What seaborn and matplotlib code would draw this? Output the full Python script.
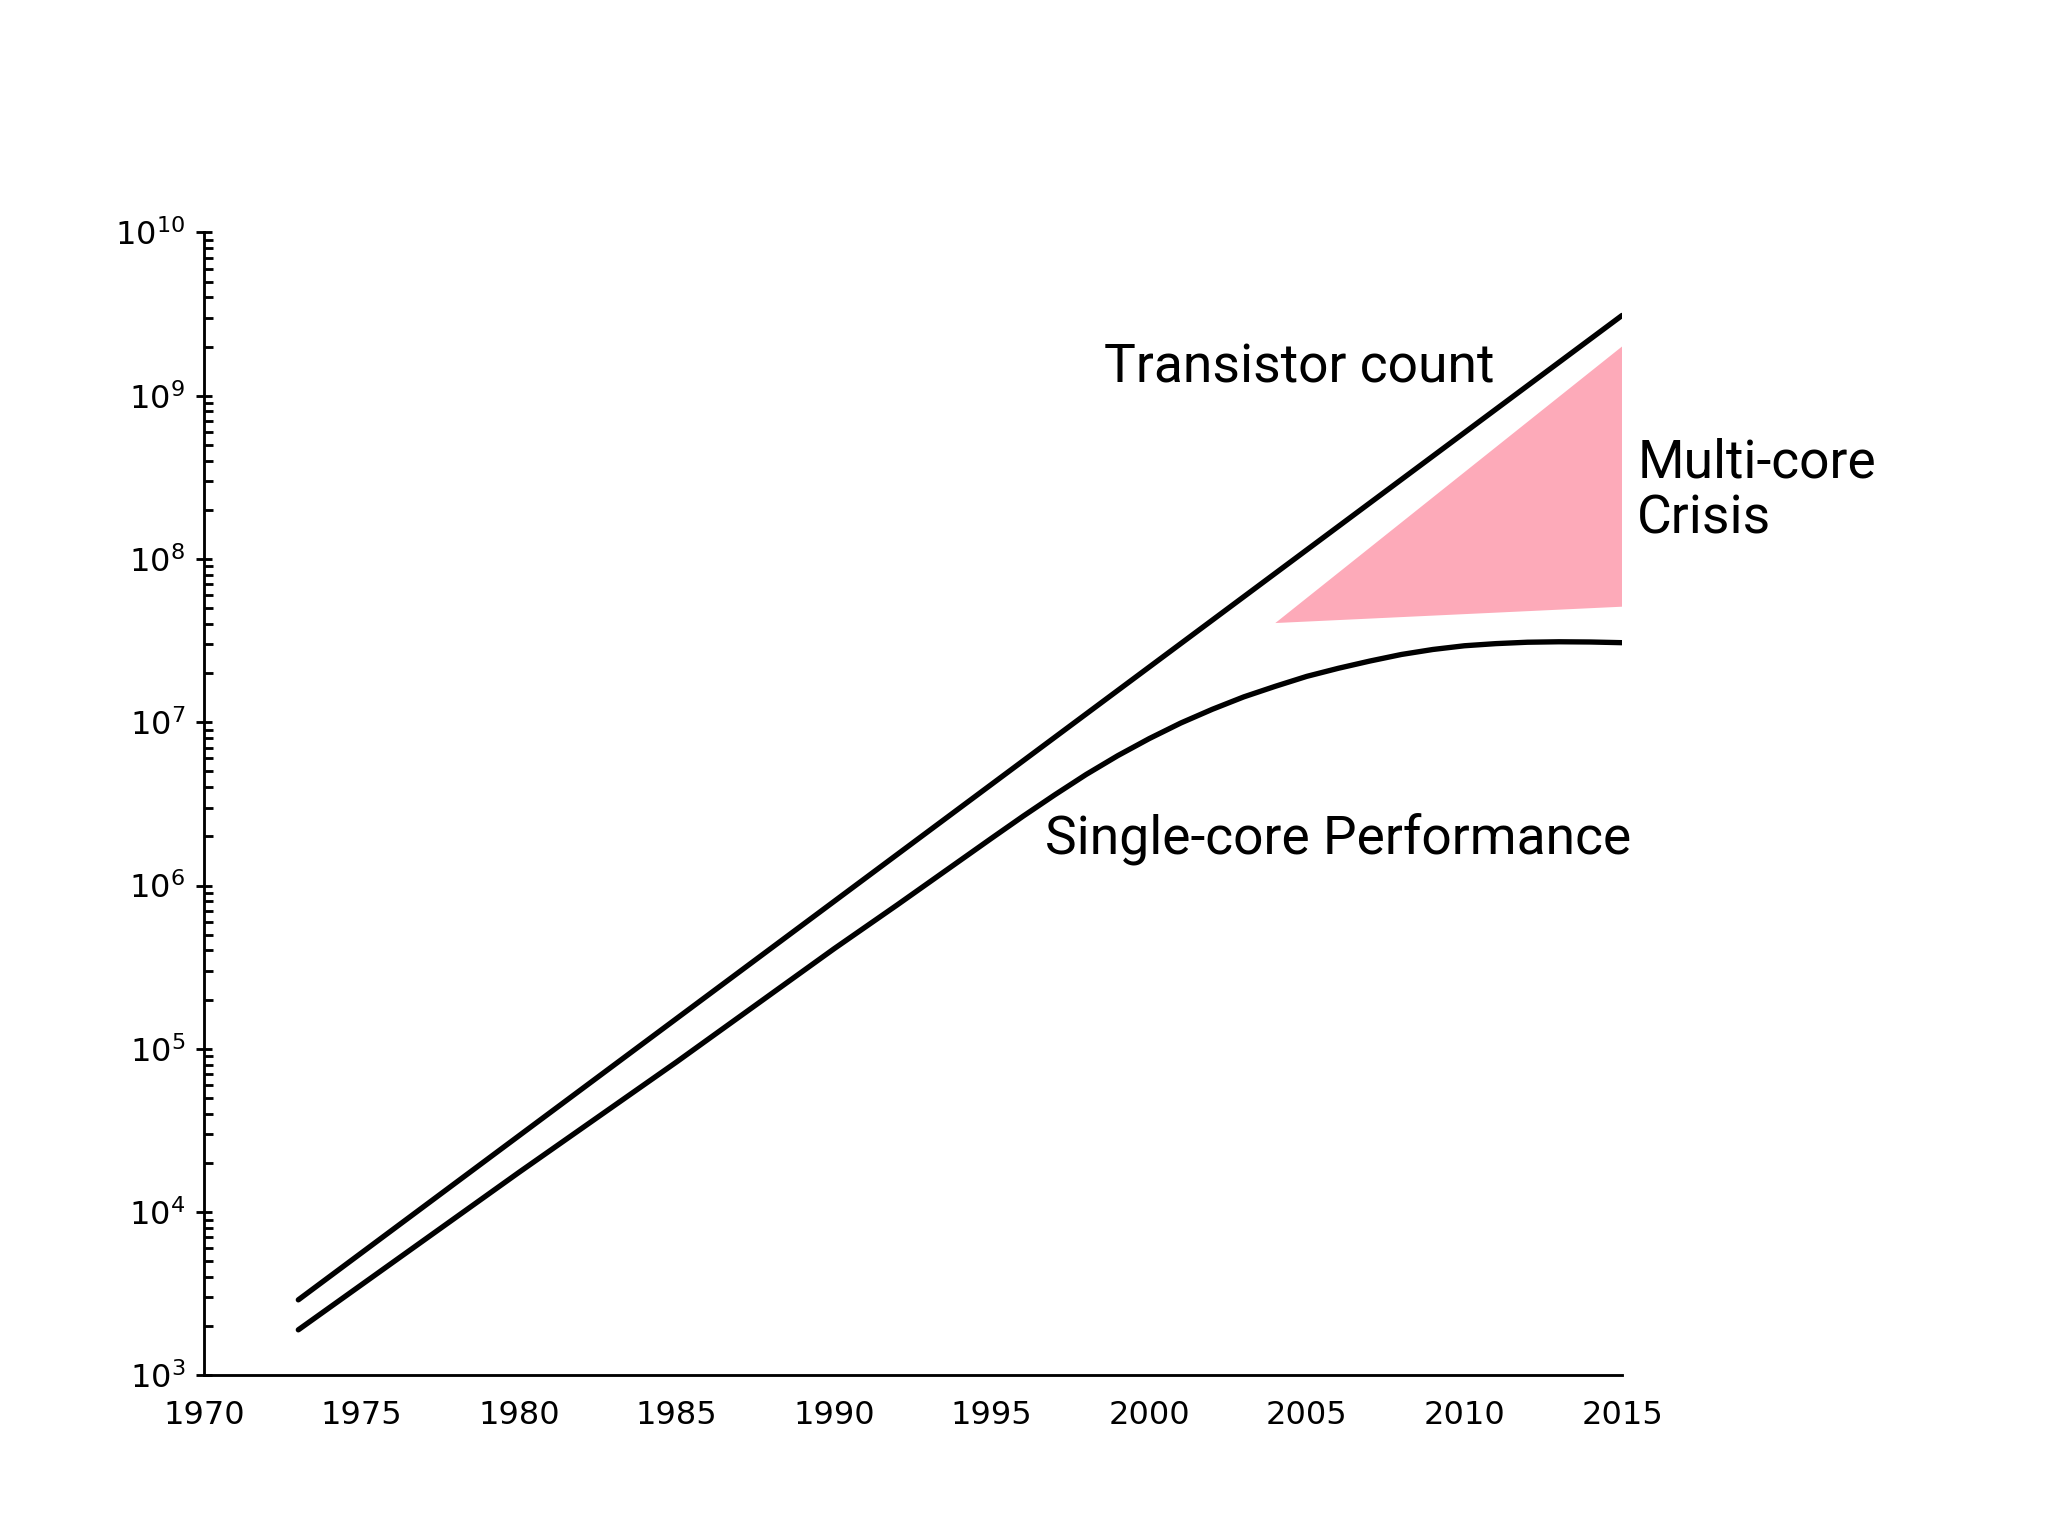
import numpy as np
import pandas as pd
import matplotlib
matplotlib.use('Agg')
import matplotlib.pyplot as plt
import seaborn as sns

# values (log scale)
transistor_years = [1973, 2015]
transistor_count = [2.9e3, 3.1e9]

single_years = [1973, 1980, 1985, 1990, 1992, 1995, 1996, 1997, 1998, 1999,
                2000, 2001, 2002, 2003, 2004, 2005, 2006, 2007, 2008, 2009,
                2010, 2011, 2012, 2013, 2014, 2015]
single_perf = [1.9e3, 1.75e4, 8.3e4, 4.1e5, 7.6e5, 1.95e6, 2.66e6, 3.59e6, 4.79e6, 6.24e6,
               7.94e6, 9.89e6, 1.20e7, 1.43e7, 1.66e7, 1.91e7, 2.14e7, 2.37e7, 2.60e7, 2.79e7,
               2.94e7, 3.03e7, 3.09e7, 3.11e7, 3.10e7, 3.07e7]

# corners of the shaded "multi-core crisis" gap
crisis_years = [2004, 2015, 2015]
crisis_vals = [4.05e7, 2.0e9, 5.1e7]

x_ticks = list(range(1970, 2016, 5))

sns.set_style('white', {'axes.edgecolor': 'black', 'text.color': 'black',
                        'xtick.color': 'black', 'ytick.color': 'black'})
plt.rcParams['font.family'] = ['DejaVu Sans']

fig = plt.figure(figsize=(8, 6), dpi=256)
ax = fig.add_axes([0.0995, 0.1046, 0.6925, 0.7441])

df_t = pd.DataFrame({'year': transistor_years, 'value': transistor_count})
df_s = pd.DataFrame({'year': single_years, 'value': single_perf})

sns.lineplot(data=df_t, x='year', y='value', color='black', lw=1.5, ax=ax)
sns.lineplot(data=df_s, x='year', y='value', color='black', lw=1.5, ax=ax)
ax.fill(crisis_years, crisis_vals, color='#fdaab9', lw=0)

ax.set_yscale('log')
ax.set_xlim(1970, 2015)
ax.set_ylim(1e3, 1e10)
ax.set_xticks(x_ticks)
ax.set(xlabel=None, ylabel=None)

ax.tick_params(axis='x', length=0, pad=7, labelsize=9)
ax.tick_params(axis='y', which='major', left=True, direction='inout', length=4.5, width=0.8, labelsize=9, pad=3)
ax.tick_params(axis='y', which='minor', left=True, direction='in', length=2.4, width=0.8)
sns.despine(ax=ax)

# annotations
font = dict(family=['Roboto', 'DejaVu Sans'], fontsize=15)
ax.text(1998.55, 1.2e9, 'Transistor count', ha='left', va='baseline', **font)
ax.text(2015.48, 3.15e8, 'Multi-core', ha='left', va='baseline', **font)
ax.text(2015.48, 1.44e8, 'Crisis', ha='left', va='baseline', **font)
ax.text(1996.69, 1.58e6, 'Single-core Performance', ha='left', va='baseline', **font)

fig.savefig('out.png', dpi=256)
